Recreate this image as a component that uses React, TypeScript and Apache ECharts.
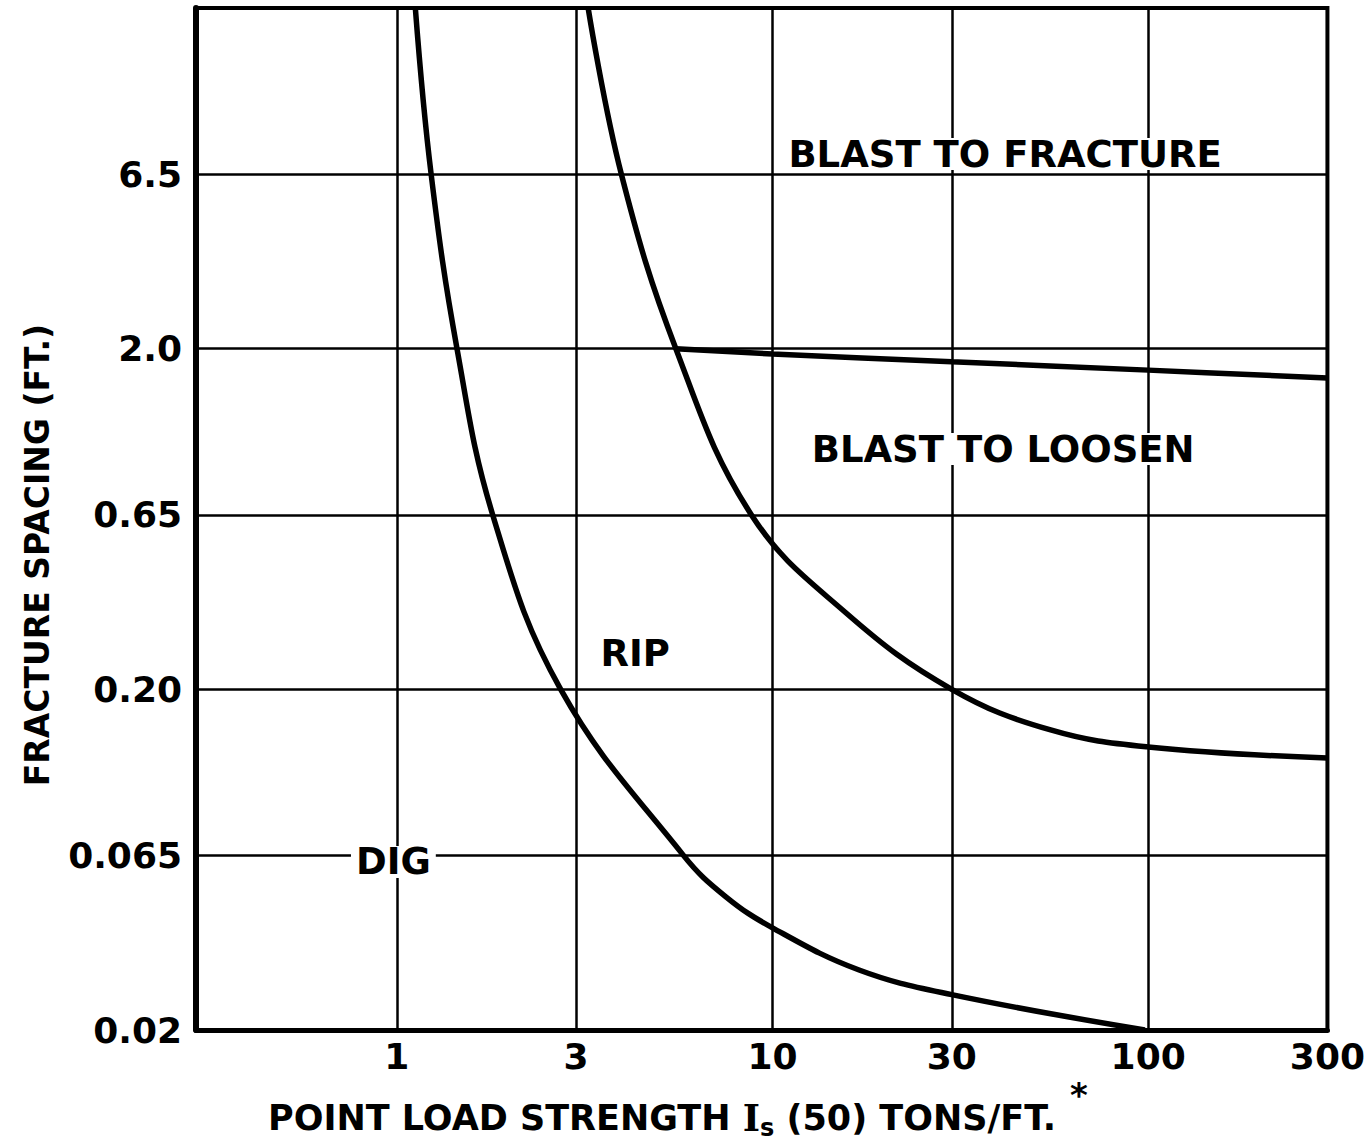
import React, { useEffect, useRef } from "react";
import * as echarts from "echarts";

// ---- axis ranges & ticks ----
const xRange = [0.292, 300];
const yRange = [0.02, 20];
const xTickValues = [1, 3, 10, 30, 100, 300];
const xTickLabels = ["1", "3", "10", "30", "100", "300"];
const yTickValues = [0.02, 0.065, 0.2, 0.65, 2.0, 6.5];
const yTickLabels = ["0.02", "0.065", "0.20", "0.65", "2.0", "6.5"];

// ---- boundary curves (point load strength, fracture spacing) ----
const digRipX = [1.12, 1.234, 1.446, 1.8, 2.73, 5.8, 7.5, 10, 17, 30, 98];
const digRipY = [20, 6.5, 2.0, 0.65, 0.2, 0.065, 0.0493, 0.0399, 0.03, 0.0254, 0.02];

const ripBlastX = [3.23, 3.96, 5.53, 8.79, 15.7, 30, 55, 100, 300];
const ripBlastY = [20, 6.5, 2.0, 0.65, 0.335, 0.2, 0.152, 0.1355, 0.1258];

const loosenFractureX = [5.53, 10, 30, 100, 300];
const loosenFractureY = [2.0, 1.93, 1.83, 1.73, 1.64];

// ---- region labels ----
const regionNames = ["BLAST TO FRACTURE", "BLAST TO LOOSEN", "RIP", "DIG"];
const regionX = [41.6, 41.1, 4.31, 0.979];
const regionY = [7.45, 1.015, 0.254, 0.0623];

const lg = (v: number) => Math.log10(v);
const pairs = (xs: number[], ys: number[]) => xs.map((x, i) => [lg(x), lg(ys[i])]);

const FONT = "DejaVu Sans";

function labelFor(values: number[], labels: string[]) {
  return (v: number) => {
    const i = values.findIndex((t) => Math.abs(lg(t) - v) < 1e-6);
    return i >= 0 ? labels[i] : "";
  };
}

export default function App() {
  const ref = useRef<HTMLDivElement>(null);

  useEffect(() => {
    if (!ref.current) return;
    const chart = echarts.init(ref.current, undefined, { renderer: "svg" });

    const curveStyle = { color: "#000", width: 5.5 };

    chart.setOption({
      animation: false,
      backgroundColor: "#fff",
      grid: {
        left: 196,
        right: 39,
        top: 8,
        bottom: 112,
        show: true,
        borderColor: "#000",
        borderWidth: 4,
        backgroundColor: "transparent",
      },
      xAxis: {
        type: "value",
        min: lg(xRange[0]),
        max: lg(xRange[1]),
        axisLine: { show: true, onZero: false, lineStyle: { color: "#000", width: 5 } },
        axisTick: { show: false, customValues: xTickValues.map(lg) },
        axisLabel: {
          customValues: xTickValues.map(lg),
          formatter: labelFor(xTickValues, xTickLabels),
          color: "#000",
          fontFamily: FONT,
          fontWeight: "bold",
          fontSize: 36,
          margin: 8,
        },
        splitLine: { show: true, lineStyle: { color: "#000", width: 2.5 } },
      },
      yAxis: {
        type: "value",
        min: lg(yRange[0]),
        max: lg(yRange[1]),
        axisLine: { show: true, onZero: false, lineStyle: { color: "#000", width: 6 } },
        axisTick: { show: false, customValues: yTickValues.map(lg) },
        axisLabel: {
          customValues: yTickValues.map(lg),
          formatter: labelFor(yTickValues, yTickLabels),
          color: "#000",
          fontFamily: FONT,
          fontWeight: "bold",
          fontSize: 36,
          margin: 14,
        },
        splitLine: { show: true, lineStyle: { color: "#000", width: 2.5 } },
      },
      graphic: [
        {
          type: "text",
          x: 37,
          y: 555,
          rotation: Math.PI / 2,
          style: {
            text: "FRACTURE SPACING (FT.)",
            fontFamily: FONT,
            fontWeight: "bold",
            fontSize: 33,
            fill: "#000",
            align: "center",
            verticalAlign: "middle",
          },
        },
        {
          type: "text",
          x: 268,
          y: 1096,
          style: {
            text: "{a|POINT LOAD STRENGTH }{i|I}{s|s}{a| (50) TONS/FT.}",
            fill: "#000",
            align: "left",
            verticalAlign: "top",
            rich: {
              a: { fontFamily: FONT, fontWeight: "bold", fontSize: 35, lineHeight: 44, fill: "#000" },
              i: { fontFamily: "DejaVu Serif", fontWeight: "bold", fontSize: 37, lineHeight: 44, fill: "#000" },
              s: {
                fontFamily: FONT,
                fontWeight: "bold",
                fontSize: 24,
                lineHeight: 24,
                verticalAlign: "bottom",
                fill: "#000",
              },
            },
          },
        },
        {
          type: "text",
          x: 1070,
          y: 1078,
          style: {
            text: "*",
            fontFamily: FONT,
            fontWeight: "bold",
            fontSize: 34,
            fill: "#000",
            align: "left",
            verticalAlign: "top",
          },
        },
      ],
      series: [
        {
          type: "line",
          name: "Dig / Rip",
          data: pairs(digRipX, digRipY),
          smooth: 0.4,
          symbol: "none",
          lineStyle: curveStyle,
          z: 3,
        },
        {
          type: "line",
          name: "Rip / Blast",
          data: pairs(ripBlastX, ripBlastY),
          smooth: 0.4,
          symbol: "none",
          lineStyle: curveStyle,
          z: 3,
        },
        {
          type: "line",
          name: "Loosen / Fracture",
          data: pairs(loosenFractureX, loosenFractureY),
          smooth: 0.4,
          symbol: "none",
          lineStyle: curveStyle,
          z: 3,
        },
        {
          type: "scatter",
          name: "Regions",
          symbolSize: 1,
          itemStyle: { color: "rgba(0,0,0,0)", opacity: 1 },
          z: 4,
          data: regionNames.map((n, i) => ({ name: n, value: [lg(regionX[i]), lg(regionY[i])] })),
          label: {
            show: true,
            position: "inside",
            formatter: (p: any) => p.name,
            color: "#000",
            opacity: 1,
            fontFamily: FONT,
            fontWeight: "bold",
            fontSize: 37,
            lineHeight: 32,
            backgroundColor: "#fff",
            padding: [0, 5],
          },
          emphasis: { disabled: true },
        },
      ],
    });

    return () => chart.dispose();
  }, []);

  return (
    <div
      ref={ref}
      style={{ position: "absolute", left: 0, top: 0, width: 1368, height: 1142, background: "#fff" }}
    />
  );
}
